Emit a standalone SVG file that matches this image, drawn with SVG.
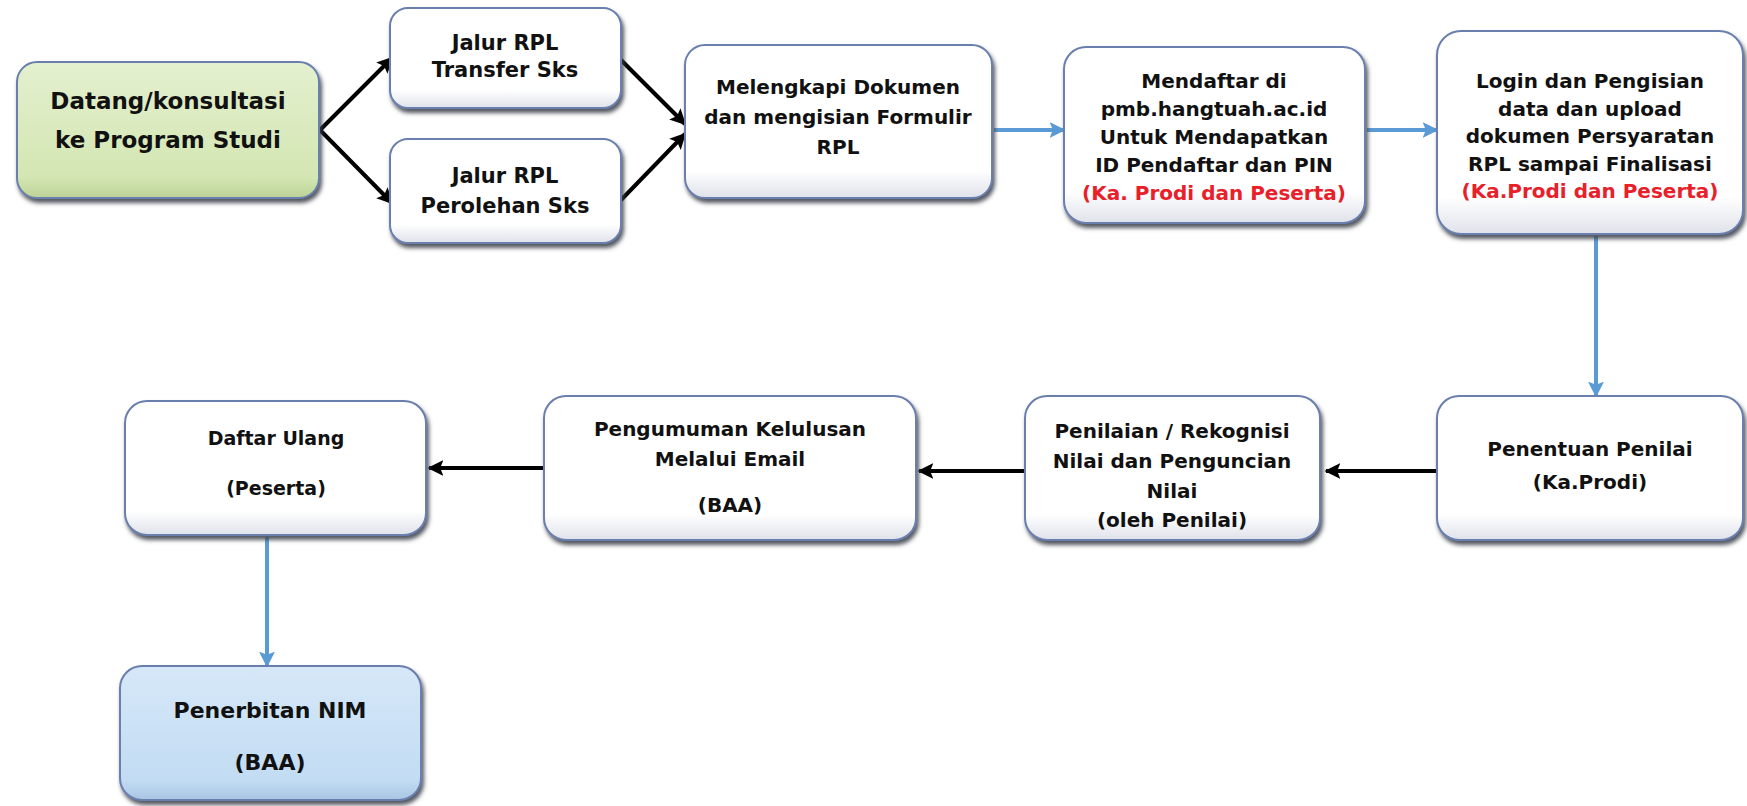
<svg xmlns="http://www.w3.org/2000/svg" width="1747" height="806" viewBox="0 0 1747 806">
<defs>
  <filter id="sh" x="-10%" y="-10%" width="125%" height="130%">
    <feDropShadow dx="2" dy="4" stdDeviation="2" flood-color="#3f4450" flood-opacity="0.9"/>
  </filter>
  <linearGradient id="gw" x1="0" y1="0" x2="0" y2="1">
    <stop offset="0" stop-color="#ffffff"/>
    <stop offset="0.82" stop-color="#ffffff"/>
    <stop offset="1" stop-color="#dfe2ea"/>
  </linearGradient>
  <linearGradient id="gg" x1="0" y1="0" x2="0" y2="1">
    <stop offset="0" stop-color="#e4f0cf"/>
    <stop offset="0.85" stop-color="#d3e6b2"/>
    <stop offset="1" stop-color="#bcd297"/>
  </linearGradient>
  <linearGradient id="gb" x1="0" y1="0" x2="0" y2="1">
    <stop offset="0" stop-color="#d6e8f8"/>
    <stop offset="0.85" stop-color="#c2dcf3"/>
    <stop offset="1" stop-color="#a9c5e3"/>
  </linearGradient>
  <marker id="ak" viewBox="0 0 10 10" refX="9" refY="5" markerWidth="4" markerHeight="4" orient="auto" markerUnits="strokeWidth">
    <path d="M0,0 L10,5 L0,10 L2,5 z" fill="#000"/>
  </marker>
  <marker id="ab" viewBox="0 0 10 10" refX="9" refY="5" markerWidth="4" markerHeight="4" orient="auto" markerUnits="strokeWidth">
    <path d="M0,0 L10,5 L0,10 L2,5 z" fill="#5b9bd5"/>
  </marker>
  <style>
    .box{stroke:#6a7fae;stroke-width:2;filter:url(#sh)}
    .w{fill:url(#gw)}
    .g{fill:url(#gg)}
    .b{fill:url(#gb)}
    text{font-family:"DejaVu Sans","Liberation Sans",sans-serif;font-weight:bold;text-anchor:middle;fill:#111;font-size:20px}
    .s23{font-size:23px}
    .s21{font-size:21px}
    .s22{font-size:22px}
    .s19{font-size:19px}
    .red{fill:#e8202a}
    .k{stroke:#000;stroke-width:4;fill:none;marker-end:url(#ak)}
    .bl{stroke:#5b9bd5;stroke-width:4;fill:none;marker-end:url(#ab)}
  </style>
</defs>
<rect width="1747" height="806" fill="#ffffff"/>

<g id="connectors">
  <line class="k" x1="320" y1="130" x2="392" y2="58"/>
  <line class="k" x1="320" y1="130" x2="392" y2="203"/>
  <line class="k" x1="621" y1="60" x2="685" y2="124"/>
  <line class="k" x1="621" y1="200" x2="685" y2="134"/>
  <line class="bl" x1="994" y1="130" x2="1064" y2="130"/>
  <line class="bl" x1="1367" y1="130" x2="1437" y2="130"/>
  <line class="bl" x1="1596" y1="236" x2="1596" y2="396"/>
  <line class="k" x1="1437" y1="471" x2="1326" y2="471"/>
  <line class="k" x1="1025" y1="471" x2="919" y2="471"/>
  <line class="k" x1="544" y1="468" x2="429" y2="468"/>
  <line class="bl" x1="267" y1="537" x2="267" y2="666"/>
</g>

<g id="datang">
  <rect class="box g" x="17" y="62" width="302" height="136" rx="20"/>
  <text class="s23" x="168" y="109">Datang/konsultasi</text>
  <text class="s23" x="168" y="148">ke Program Studi</text>
</g>
<g id="transfer">
  <rect class="box w" x="390" y="8" width="231" height="100" rx="18"/>
  <text class="s21" x="505" y="50">Jalur RPL</text>
  <text class="s21" x="505" y="77">Transfer Sks</text>
</g>
<g id="perolehan">
  <rect class="box w" x="390" y="139" width="231" height="104" rx="18"/>
  <text class="s21" x="505" y="183">Jalur RPL</text>
  <text class="s21" x="505" y="213">Perolehan Sks</text>
</g>
<g id="melengkapi">
  <rect class="box w" x="685" y="45" width="307" height="153" rx="20"/>
  <text x="838" y="94">Melengkapi Dokumen</text>
  <text x="838" y="124">dan mengisian Formulir</text>
  <text x="838" y="154">RPL</text>
</g>
<g id="mendaftar">
  <rect class="box w" x="1064" y="47" width="301" height="176" rx="22"/>
  <text x="1214" y="88">Mendaftar di</text>
  <text x="1214" y="116">pmb.hangtuah.ac.id</text>
  <text x="1214" y="144">Untuk Mendapatkan</text>
  <text x="1214" y="172">ID Pendaftar dan PIN</text>
  <text class="red" x="1214" y="200">(Ka. Prodi dan Peserta)</text>
</g>
<g id="login">
  <rect class="box w" x="1437" y="31" width="306" height="203" rx="24"/>
  <text x="1590" y="88">Login dan Pengisian</text>
  <text x="1590" y="116">data dan upload</text>
  <text x="1590" y="143">dokumen Persyaratan</text>
  <text x="1590" y="171">RPL sampai Finalisasi</text>
  <text class="red" x="1590" y="198">(Ka.Prodi dan Peserta)</text>
</g>
<g id="penentuan">
  <rect class="box w" x="1437" y="396" width="306" height="144" rx="22"/>
  <text x="1590" y="456">Penentuan Penilai</text>
  <text x="1590" y="489">(Ka.Prodi)</text>
</g>
<g id="penilaian">
  <rect class="box w" x="1025" y="396" width="295" height="144" rx="22"/>
  <text x="1172" y="438">Penilaian / Rekognisi</text>
  <text x="1172" y="468">Nilai dan Penguncian</text>
  <text x="1172" y="498">Nilai</text>
  <text x="1172" y="527">(oleh Penilai)</text>
</g>
<g id="pengumuman">
  <rect class="box w" x="544" y="396" width="372" height="144" rx="22"/>
  <text x="730" y="436">Pengumuman Kelulusan</text>
  <text x="730" y="466">Melalui Email</text>
  <text x="730" y="512">(BAA)</text>
</g>
<g id="daftar">
  <rect class="box w" x="125" y="401" width="301" height="134" rx="22"/>
  <text class="s19" x="276" y="445">Daftar Ulang</text>
  <text class="s19" x="276" y="495">(Peserta)</text>
</g>
<g id="nim">
  <rect class="box b" x="120" y="666" width="301" height="134" rx="22"/>
  <text class="s22" x="270" y="718">Penerbitan NIM</text>
  <text class="s22" x="270" y="770">(BAA)</text>
</g>
</svg>
